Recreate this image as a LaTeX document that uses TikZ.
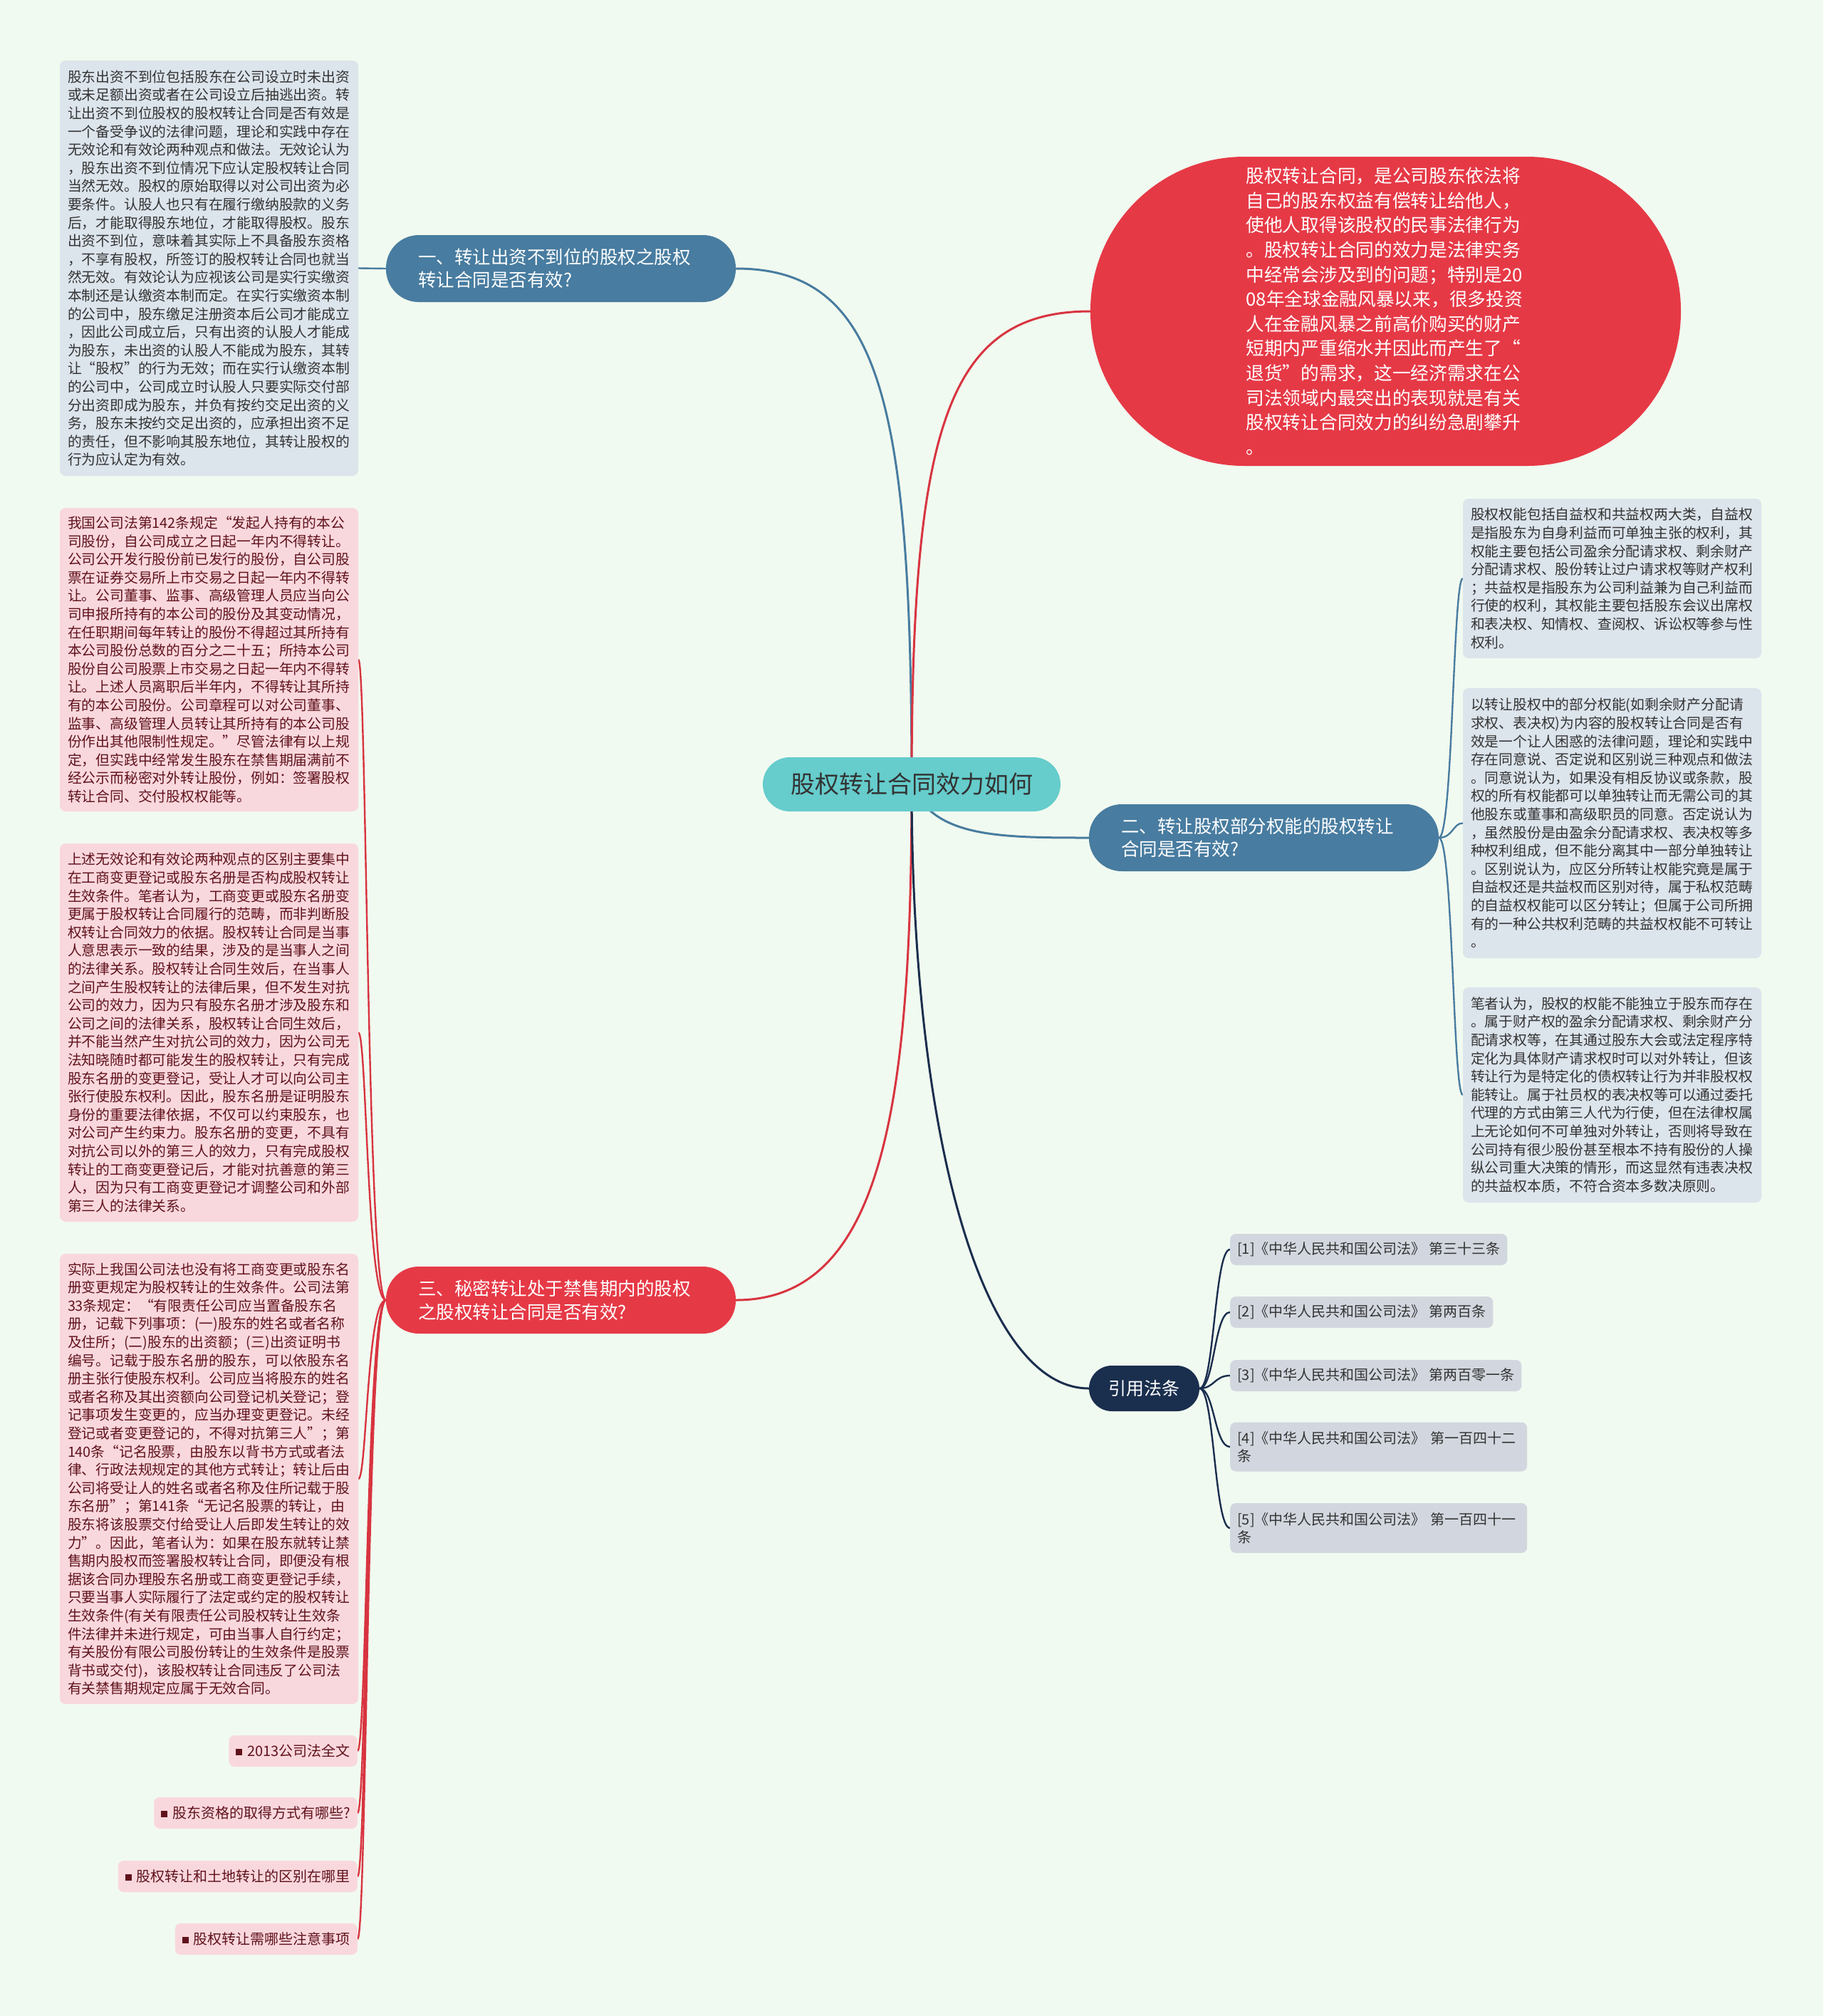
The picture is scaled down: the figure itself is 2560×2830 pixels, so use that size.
\documentclass[tikz,border=0pt]{standalone}
\usepackage{fontspec}
\setmainfont{Noto Sans CJK SC}
\pgfdeclarelayer{bg}
\pgfsetlayers{bg,main}
\definecolor{cbg}{RGB}{241,250,240}
\definecolor{cgreyblk}{RGB}{220,228,236}
\definecolor{cpinkblk}{RGB}{249,216,221}
\definecolor{cmaroon}{RGB}{96,18,28}
\definecolor{cdark}{RGB}{51,51,51}
\definecolor{ccite}{RGB}{210,215,223}
\definecolor{csteel}{RGB}{72,124,160}
\definecolor{cred}{RGB}{230,57,70}
\definecolor{credline}{RGB}{216,52,64}
\definecolor{cnavy}{RGB}{26,46,78}
\definecolor{cteal}{RGB}{102,204,204}
\newcommand\lksq{\textcolor{cmaroon}{\rule[1.5pt]{9pt}{9pt}}\hspace{7pt}}
\tikzset{
  blk/.style={rectangle, rounded corners=8pt, inner xsep=11pt, inner ysep=2pt, align=left,
    text width=397pt, font=\fontsize{19.8pt}{25.6pt}\selectfont},
  greyb/.style={blk, fill=cgreyblk, text=cdark},
  pinkb/.style={blk, fill=cpinkblk, text=cmaroon},
  linkb/.style={rectangle, rounded corners=8pt, fill=cpinkblk, text=cmaroon, inner xsep=10pt,
    inner ysep=0pt, minimum height=44pt, anchor=east, font=\fontsize{20pt}{25pt}\selectfont},
  citeb/.style={rectangle, rounded corners=8pt, fill=ccite, text=cdark, inner xsep=10pt,
    inner ysep=0pt, minimum height=44pt, anchor=west, align=left, font=\fontsize{20pt}{25pt}\selectfont},
  bnode/.style={rectangle, rounded corners=46pt, minimum height=94pt, inner xsep=45pt, inner ysep=0pt,
    text width=401pt, align=left, text=white, font=\fontsize{25.5pt}{32.5pt}\selectfont},
  mainline/.style={line width=3pt},
  subline/.style={line width=2.4pt},
}
\begin{document}
\begin{tikzpicture}[x=1pt,y=-1pt]
\useasboundingbox (0,0) rectangle (2560,2830);

% center
\node[rectangle, rounded corners=38pt, fill=cteal, text=cdark, minimum width=418pt, minimum height=76pt,
  font=\fontsize{34pt}{40pt}\selectfont] (c) at (1280,1101) {股权转让合同效力如何};

% branches
\node[bnode, fill=csteel] (b1) at (787.5,377) {一、转让出资不到位的股权之股权\\转让合同是否有效?};
\node[bnode, fill=csteel] (b2) at (1774.5,1176) {二、转让股权部分权能的股权转让\\合同是否有效?};
\node[bnode, fill=cred] (b3) at (787.5,1825) {三、秘密转让处于禁售期内的股权\\之股权转让合同是否有效?};
\node[rectangle, rounded corners=32pt, fill=cnavy, text=white, minimum width=155pt, minimum height=64pt,
  font=\fontsize{25pt}{30pt}\selectfont] (ref) at (1606.5,1949) {引用法条};

% red stadium
\node[rectangle, rounded corners=216pt, fill=cred, text=white, minimum width=829pt, minimum height=434pt,
  text width=392pt, align=left, inner sep=0pt, font=\fontsize{25.7pt}{34.6pt}\selectfont] (intro) at (1945.5,437) {股权转让合同，是公司股东依法将\\自己的股东权益有偿转让给他人，\\使他人取得该股权的民事法律行为\\。股权转让合同的效力是法律实务\\中经常会涉及到的问题；特别是20\\08年全球金融风暴以来，很多投资\\人在金融风暴之前高价购买的财产\\短期内严重缩水并因此而产生了“\\退货”的需求，这一经济需求在公\\司法领域内最突出的表现就是有关\\股权转让合同效力的纠纷急剧攀升\\。};

% left blocks
\node[greyb, minimum height=583pt] (L1) at (293.5,376.5) {股东出资不到位包括股东在公司设立时未出资\\或未足额出资或者在公司设立后抽逃出资。转\\让出资不到位股权的股权转让合同是否有效是\\一个备受争议的法律问题，理论和实践中存在\\无效论和有效论两种观点和做法。无效论认为\\，股东出资不到位情况下应认定股权转让合同\\当然无效。股权的原始取得以对公司出资为必\\要条件。认股人也只有在履行缴纳股款的义务\\后，才能取得股东地位，才能取得股权。股东\\出资不到位，意味着其实际上不具备股东资格\\，不享有股权，所签订的股权转让合同也就当\\然无效。有效论认为应视该公司是实行实缴资\\本制还是认缴资本制而定。在实行实缴资本制\\的公司中，股东缴足注册资本后公司才能成立\\，因此公司成立后，只有出资的认股人才能成\\为股东，未出资的认股人不能成为股东，其转\\让“股权”的行为无效；而在实行认缴资本制\\的公司中，公司成立时认股人只要实际交付部\\分出资即成为股东，并负有按约交足出资的义\\务，股东未按约交足出资的，应承担出资不足\\的责任，但不影响其股东地位，其转让股权的\\行为应认定为有效。};

\node[pinkb, minimum height=426pt] (L2) at (293.5,926) {我国公司法第142条规定“发起人持有的本公\\司股份，自公司成立之日起一年内不得转让。\\公司公开发行股份前已发行的股份，自公司股\\票在证券交易所上市交易之日起一年内不得转\\让。公司董事、监事、高级管理人员应当向公\\司申报所持有的本公司的股份及其变动情况，\\在任职期间每年转让的股份不得超过其所持有\\本公司股份总数的百分之二十五；所持本公司\\股份自公司股票上市交易之日起一年内不得转\\让。上述人员离职后半年内，不得转让其所持\\有的本公司股份。公司章程可以对公司董事、\\监事、高级管理人员转让其所持有的本公司股\\份作出其他限制性规定。”尽管法律有以上规\\定，但实践中经常发生股东在禁售期届满前不\\经公示而秘密对外转让股份，例如：签署股权\\转让合同、交付股权权能等。};

\node[pinkb, minimum height=531pt] (L3) at (293.5,1449.5) {上述无效论和有效论两种观点的区别主要集中\\在工商变更登记或股东名册是否构成股权转让\\生效条件。笔者认为，工商变更或股东名册变\\更属于股权转让合同履行的范畴，而非判断股\\权转让合同效力的依据。股权转让合同是当事\\人意思表示一致的结果，涉及的是当事人之间\\的法律关系。股权转让合同生效后，在当事人\\之间产生股权转让的法律后果，但不发生对抗\\公司的效力，因为只有股东名册才涉及股东和\\公司之间的法律关系，股权转让合同生效后，\\并不能当然产生对抗公司的效力，因为公司无\\法知晓随时都可能发生的股权转让，只有完成\\股东名册的变更登记，受让人才可以向公司主\\张行使股东权利。因此，股东名册是证明股东\\身份的重要法律依据，不仅可以约束股东，也\\对公司产生约束力。股东名册的变更，不具有\\对抗公司以外的第三人的效力，只有完成股权\\转让的工商变更登记后，才能对抗善意的第三\\人，因为只有工商变更登记才调整公司和外部\\第三人的法律关系。};

\node[pinkb, minimum height=632pt] (L4) at (293.5,2076) {实际上我国公司法也没有将工商变更或股东名\\册变更规定为股权转让的生效条件。公司法第\\33条规定：“有限责任公司应当置备股东名\\册，记载下列事项：(一)股东的姓名或者名称\\及住所；(二)股东的出资额；(三)出资证明书\\编号。记载于股东名册的股东，可以依股东名\\册主张行使股东权利。公司应当将股东的姓名\\或者名称及其出资额向公司登记机关登记；登\\记事项发生变更的，应当办理变更登记。未经\\登记或者变更登记的，不得对抗第三人”；第\\140条“记名股票，由股东以背书方式或者法\\律、行政法规规定的其他方式转让；转让后由\\公司将受让人的姓名或者名称及住所记载于股\\东名册”；第141条“无记名股票的转让，由\\股东将该股票交付给受让人后即发生转让的效\\力”。因此，笔者认为：如果在股东就转让禁\\售期内股权而签署股权转让合同，即便没有根\\据该合同办理股东名册或工商变更登记手续，\\只要当事人实际履行了法定或约定的股权转让\\生效条件(有关有限责任公司股权转让生效条\\件法律并未进行规定，可由当事人自行约定；\\有关股份有限公司股份转让的生效条件是股票\\背书或交付)，该股权转让合同违反了公司法\\有关禁售期规定应属于无效合同。};

% links
\node[linkb] (K1) at (502,2458) {\lksq 2013公司法全文};
\node[linkb] (K2) at (502,2545) {\lksq 股东资格的取得方式有哪些?};
\node[linkb] (K3) at (502,2634) {\lksq 股权转让和土地转让的区别在哪里};
\node[linkb] (K4) at (502,2722) {\lksq 股权转让需哪些注意事项};

% right blocks
\node[greyb, minimum height=224pt] (R1) at (2263.5,812) {股权权能包括自益权和共益权两大类，自益权\\是指股东为自身利益而可单独主张的权利，其\\权能主要包括公司盈余分配请求权、剩余财产\\分配请求权、股份转让过户请求权等财产权利\\；共益权是指股东为公司利益兼为自己利益而\\行使的权利，其权能主要包括股东会议出席权\\和表决权、知情权、查阅权、诉讼权等参与性\\权利。};

\node[greyb, minimum height=379pt] (R2) at (2263.5,1155.5) {以转让股权中的部分权能(如剩余财产分配请\\求权、表决权)为内容的股权转让合同是否有\\效是一个让人困惑的法律问题，理论和实践中\\存在同意说、否定说和区别说三种观点和做法\\。同意说认为，如果没有相反协议或条款，股\\权的所有权能都可以单独转让而无需公司的其\\他股东或董事和高级职员的同意。否定说认为\\，虽然股份是由盈余分配请求权、表决权等多\\种权利组成，但不能分离其中一部分单独转让\\。区别说认为，应区分所转让权能究竟是属于\\自益权还是共益权而区别对待，属于私权范畴\\的自益权权能可以区分转让；但属于公司所拥\\有的一种公共权利范畴的共益权权能不可转让\\。};

\node[greyb, minimum height=302pt] (R3) at (2263.5,1537) {笔者认为，股权的权能不能独立于股东而存在\\。属于财产权的盈余分配请求权、剩余财产分\\配请求权等，在其通过股东大会或法定程序特\\定化为具体财产请求权时可以对外转让，但该\\转让行为是特定化的债权转让行为并非股权权\\能转让。属于社员权的表决权等可以通过委托\\代理的方式由第三人代为行使，但在法律权属\\上无论如何不可单独对外转让，否则将导致在\\公司持有很少股份甚至根本不持有股份的人操\\纵公司重大决策的情形，而这显然有违表决权\\的共益权本质，不符合资本多数决原则。};

% citations
\node[citeb] (C1) at (1727,1754) {[1]《中华人民共和国公司法》 第三十三条};
\node[citeb] (C2) at (1727,1842) {[2]《中华人民共和国公司法》 第两百条};
\node[citeb] (C3) at (1727,1931) {[3]《中华人民共和国公司法》 第两百零一条};
\node[citeb, text width=397pt, minimum height=69pt] (C4) at (1727,2031) {[4]《中华人民共和国公司法》 第一百四十二\\条};
\node[citeb, text width=397pt, minimum height=70pt] (C5) at (1727,2145) {[5]《中华人民共和国公司法》 第一百四十一\\条};

\coordinate (sp2) at (2040,0);
\coordinate (sp3) at (515,0);
\coordinate (sp4) at (1705,0);

\begin{pgfonlayer}{bg}
\fill[cbg] (0,0) rectangle (2560,2830);
% main connectors
\draw[mainline, csteel] (c.center) .. controls (1280,560) and (1235,377) .. (b1.east);
\draw[mainline, credline] (c.center) .. controls (1280,600) and (1330,437) .. (intro.west);
\draw[mainline, csteel] (c.center) .. controls (1310,1175) and (1400,1176) .. (b2.west);
\draw[mainline, credline] (c.center) .. controls (1280,1550) and (1240,1825) .. (b3.east);
\draw[mainline, cnavy] (c.center) .. controls (1280,1600) and (1380,1949) .. (ref.west);
% sub connectors
\draw[subline, csteel] (b1.west) -- (L1.east);
\foreach \n in {R1,R2,R3}
  \draw[subline, csteel] (b2.east) .. controls (sp2 |- b2.east) and (sp2 |- \n.west) .. (\n.west);
\foreach \n in {L2,L3,L4,K1,K2,K3,K4}
  \draw[subline, credline] (b3.west) .. controls (sp3 |- b3.west) and (sp3 |- \n.east) .. (\n.east);
\foreach \n in {C1,C2,C3,C4,C5}
  \draw[subline, cnavy] (ref.east) .. controls (sp4 |- ref.east) and (sp4 |- \n.west) .. (\n.west);
\end{pgfonlayer}
\end{tikzpicture}
\end{document}
